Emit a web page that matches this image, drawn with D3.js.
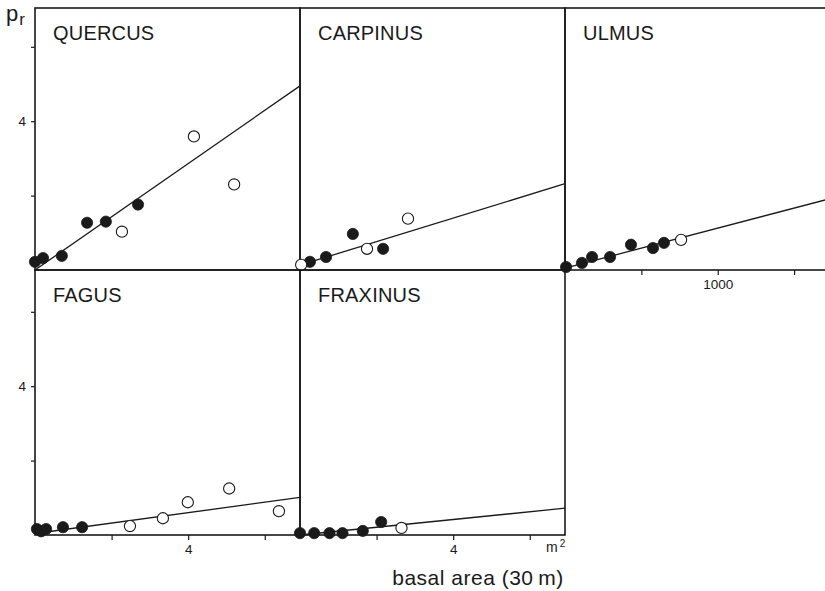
<!DOCTYPE html>
<html>
<head>
<meta charset="utf-8">
<script src="https://cdn.jsdelivr.net/npm/d3@7"></script>
<style>
  html, body { margin: 0; padding: 0; background: #fff; }
  svg { display: block; }
  text { font-family: "Liberation Sans", Arial, sans-serif; fill: #1a1a1a; }
</style>
</head>
<body>
<svg id="chart" width="825" height="591"></svg>
<script>
// ---- data ----
const panelNames = ["QUERCUS", "CARPINUS", "ULMUS", "FAGUS", "FRAXINUS"];

const quercusFilled = [[0.0,0.22],[0.21,0.32],[0.70,0.38],[1.36,1.27],[1.85,1.30],[2.69,1.76]];
const quercusOpen   = [[2.27,1.03],[4.15,3.59],[5.20,2.30]];
const quercusFit    = [[0,0],[6.92,4.95]];

const carpinusFilled = [[0.26,0.22],[0.68,0.35],[1.38,0.97],[2.17,0.57]];
const carpinusOpen   = [[0.03,0.14],[1.75,0.57],[2.82,1.38]];
const carpinusFit    = [[0,0.13],[6.92,2.32]];

const ulmusFilled = [[7,0.08],[111,0.19],[177,0.35],[295,0.35],[432,0.68],[576,0.59],[648,0.73]];
const ulmusOpen   = [[760,0.81]];
const ulmusFit    = [[0,0.05],[1710,1.89]];

const fagusFilled = [[0.05,0.16],[0.16,0.10],[0.29,0.16],[0.73,0.21],[1.23,0.21]];
const fagusOpen   = [[2.48,0.24],[3.34,0.45],[3.99,0.88],[5.07,1.25],[6.37,0.64]];
const fagusFit    = [[0,0.04],[6.92,1.01]];

const fraxinusFilled = [[0,0.05],[0.37,0.05],[0.77,0.05],[1.11,0.05],[1.64,0.11],[2.12,0.35]];
const fraxinusOpen   = [[2.65,0.19]];
const fraxinusFit    = [[0,0],[6.92,0.72]];

const yTicks = [2, 4, 6];
const yTickLabels = {4: "4"};
const xTicks = [2, 4, 6];
const xTickLabels = {4: "4"};
const ulmusXTicks = [500, 1000, 1500];
const ulmusXTickLabels = {1000: "1000"};

const yLabel = "p";
const yLabelSub = "r";
const xLabel = "basal area (30\u2009m)";
const xUnit = "m";
const xUnitSup = "2";

// ---- layout ----
const colX = [35, 300, 565];
const rowY = [8, 270];
const panelW = 265;
const rowH = [262, 265];

const panels = [
  {name: panelNames[0], col: 0, row: 0, xMax: 6.92, filled: quercusFilled, open: quercusOpen, fit: quercusFit, yAxis: true},
  {name: panelNames[1], col: 1, row: 0, xMax: 6.92, filled: carpinusFilled, open: carpinusOpen, fit: carpinusFit},
  {name: panelNames[2], col: 2, row: 0, xMax: 1735, filled: ulmusFilled, open: ulmusOpen, fit: ulmusFit, xAxis: ulmusXTicks, xLabels: ulmusXTickLabels},
  {name: panelNames[3], col: 0, row: 1, xMax: 6.92, filled: fagusFilled, open: fagusOpen, fit: fagusFit, yAxis: true, xAxis: xTicks, xLabels: xTickLabels},
  {name: panelNames[4], col: 1, row: 1, xMax: 6.92, filled: fraxinusFilled, open: fraxinusOpen, fit: fraxinusFit, xAxis: xTicks, xLabels: xTickLabels}
];

const svg = d3.select("#chart");
const ink = "#1a1a1a";
const R = 5.6;

panels.forEach(p => {
  const x0 = colX[p.col], y0 = rowY[p.row], h = rowH[p.row];
  const x = d3.scaleLinear().domain([0, p.xMax]).range([x0, x0 + panelW]);
  const y = d3.scaleLinear().domain([0, h / 37.2]).range([y0 + h, y0]);
  const g = svg.append("g");

  if (p.yAxis) {
    const ax = g.append("g").attr("transform", `translate(${x0},0)`)
      .call(d3.axisLeft(y).tickValues(yTicks).tickSize(4).tickPadding(5)
        .tickFormat(d => yTickLabels[d] || ""));
    ax.select(".domain").remove();
    ax.selectAll("line").attr("stroke", ink).attr("stroke-width", 1.2);
    ax.selectAll("text").attr("font-size", 13.5).style("font-family", "'Liberation Sans', Arial, sans-serif").attr("fill", ink);
  }
  if (p.xAxis) {
    const ax = g.append("g").attr("transform", `translate(0,${y0 + h})`)
      .call(d3.axisBottom(x).tickValues(p.xAxis).tickSize(5).tickPadding(4)
        .tickFormat(d => p.xLabels[d] || ""));
    ax.select(".domain").remove();
    ax.selectAll("line").attr("stroke", ink).attr("stroke-width", 1.2);
    ax.selectAll("text").attr("font-size", 13.5).style("font-family", "'Liberation Sans', Arial, sans-serif").attr("fill", ink);
  }

  g.append("rect")
    .attr("x", x0).attr("y", y0).attr("width", panelW).attr("height", h)
    .attr("fill", "none").attr("stroke", ink).attr("stroke-width", 1.6);

  g.append("text").attr("x", x0 + 18).attr("y", y0 + 32)
    .attr("font-size", 20).attr("letter-spacing", 0.2).text(p.name);

  g.append("path").datum(p.fit)
    .attr("d", d3.line().x(d => x(d[0])).y(d => y(d[1])))
    .attr("fill", "none").attr("stroke", ink).attr("stroke-width", 1.3);

  g.selectAll("circle.f").data(p.filled).join("circle")
    .attr("class", "f")
    .attr("cx", d => x(d[0])).attr("cy", d => y(d[1])).attr("r", R)
    .attr("fill", ink).attr("stroke", ink).attr("stroke-width", 0.8);
  g.selectAll("circle.o").data(p.open).join("circle")
    .attr("class", "o")
    .attr("cx", d => x(d[0])).attr("cy", d => y(d[1])).attr("r", R)
    .attr("fill", "#fff").attr("stroke", ink).attr("stroke-width", 1.1);
});

// y label p_r
const yl = svg.append("text").attr("x", 6).attr("y", 21).attr("font-size", 22);
yl.append("tspan").text(yLabel);
yl.append("tspan").attr("font-size", 17).attr("dy", 4).attr("dx", 1).text(yLabelSub);

// unit m²
const mu = svg.append("text").attr("x", 546).attr("y", 552).attr("font-size", 14);
mu.append("tspan").text(xUnit);
mu.append("tspan").attr("font-size", 10).attr("dy", -5).attr("dx", 2).text(xUnitSup);

// x axis title
svg.append("text").attr("x", 478).attr("y", 585).attr("text-anchor", "middle")
  .attr("font-size", 21).attr("letter-spacing", 0.5).text(xLabel);
</script>
</body>
</html>
